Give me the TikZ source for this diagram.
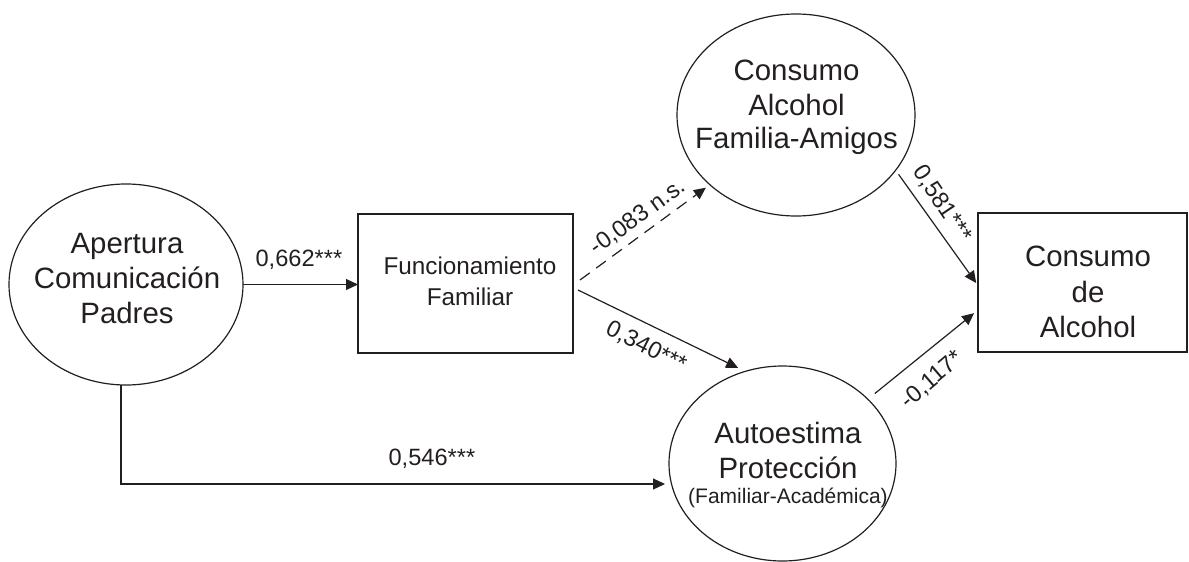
\documentclass[tikz,border=0pt]{standalone}
\usepackage{fontspec}
\setmainfont{Liberation Sans}
\usetikzlibrary{shapes.geometric,arrows.meta,calc}
\definecolor{ink}{RGB}{35,31,32}
\begin{document}
\begin{tikzpicture}[x=0.5pt,y=-0.5pt,line width=0.6pt,color=ink,
  latent/.style={ellipse,draw,inner sep=0pt,outer sep=0pt},
  obs/.style={rectangle,draw,inner sep=0pt,outer sep=0pt},
  bigtxt/.style={font=\fontsize{14.7}{17.6}\selectfont,anchor=base,inner sep=0pt},
  midtxt/.style={font=\fontsize{12.15}{14.5}\selectfont,anchor=base,inner sep=0pt},
  smalltxt/.style={font=\fontsize{10.5}{12.6}\selectfont,anchor=base,inner sep=0pt},
  coef/.style={font=\fontsize{11.8}{14}\selectfont,inner sep=0pt},
  arr/.style={-{Triangle[length=6pt,width=5.5pt]}},
  dashline/.style={dash pattern=on 6pt off 4pt}]
\path[use as bounding box] (0,0) rectangle (1189,562);

% shapes
\node[latent,minimum width=117pt,minimum height=100.5pt] (A) at (126,284.5) {};
\node[obs,minimum width=107.5pt,minimum height=69.5pt] (F) at (465.5,283.5) {};
\node[latent,minimum width=119pt,minimum height=101pt] (C) at (796,115) {};
\node[latent,minimum width=113.5pt,minimum height=97.5pt] (P) at (782.5,463.5) {};
\node[obs,minimum width=104.5pt,minimum height=69.5pt] (D) at (1082.5,282.5) {};

% texts
\node[bigtxt] (a1) at (127,253) {Apertura};
\node[bigtxt] (a2) at (127,288) {Comunicación};
\node[bigtxt] (a3) at (127,323) {Padres};
\node[midtxt] (f1) at (470,274) {Funcionamiento};
\node[midtxt] (f2) at (470,305) {Familiar};
\node[bigtxt] (c1) at (796.5,80) {Consumo};
\node[bigtxt] (c2) at (796.5,115) {Alcohol};
\node[bigtxt] (c3) at (796.5,148.5) {Familia-Amigos};
\node[bigtxt] (p1) at (788,443) {Autoestima};
\node[bigtxt] (p2) at (788,478) {Protección};
\node[smalltxt] (p3) at (788,503.5) {(Familiar-Académica)};
\node[bigtxt] (d1) at (1088,266) {Consumo};
\node[bigtxt] (d2) at (1088,302) {de};
\node[bigtxt] (d3) at (1088,337) {Alcohol};

% connectors
\draw[arr] (A.east) -- (A.east -| F.west);
\draw[arr,shorten >=2pt] ($(A.south)+(-5,0)$) |- ($(P.west)+(0,20.5)$);
\draw[arr,dashline,shorten >=2.5pt] ($(F.east)+(7,-3.5)$) -- (C.219);
\draw[arr,shorten >=4pt] ($(F.east)+(5,6.5)$) -- (P.112);
\draw[arr,shorten <=2.5pt,shorten >=1.5pt] (C.-29) -- ($(D.west)+(0,3)$);
\draw[arr,shorten <=4.5pt,shorten >=2.5pt] (P.37.3) -- ($(D.west)+(0,27.5)$);

% coefficients
\node[coef,anchor=base west] (k1) at (255,266) {0,662***};
\node[coef,anchor=base west] (k2) at (388,465) {0,546***};
\node[coef,rotate=36] (k3) at (638,217) {-0,083 n.s.};
\node[coef,rotate=-27] (k4) at (646,347) {0,340***};
\node[coef,rotate=-56] (k5) at (942,204) {0,581***};
\node[coef,rotate=40.5] (k6) at (932,380) {-0,117*};
\end{tikzpicture}
\end{document}
